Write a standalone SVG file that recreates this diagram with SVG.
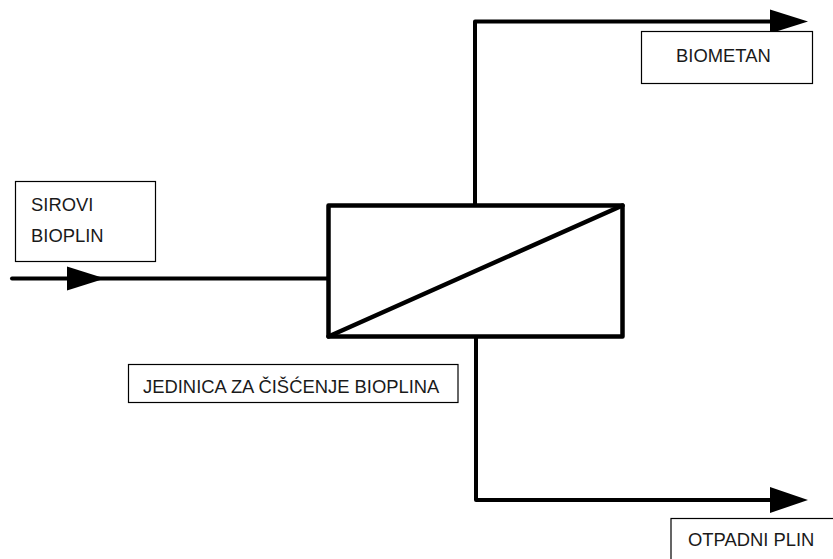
<svg xmlns="http://www.w3.org/2000/svg" width="833" height="559" viewBox="0 0 833 559">
<style>
.flow{fill:none;stroke:#000;stroke-width:4;stroke-linejoin:round;stroke-linecap:round}
.head{fill:#000;stroke:none}
.lbl{fill:#fff;stroke:#000;stroke-width:1.2}
.t{font-family:"Liberation Sans",Arial,sans-serif;font-size:18.4px;fill:#1a1a1a}
.unit{fill:#fff;stroke:#000;stroke-width:4.5;stroke-linejoin:round}
</style>
<rect width="833" height="559" fill="#fff"/>
<g id="connectors">
<path class="flow" d="M12,278.5 H328"/>
<polygon class="head" points="67,266.5 105,278.5 67,290.5"/>
<path class="flow" d="M475,205.5 V21.5 H772"/>
<polygon class="head" points="770,9.5 808,21.5 770,33.5"/>
<path class="flow" d="M476,336.5 V500 H772"/>
<polygon class="head" points="770,487 808,500 770,513"/>
</g>
<g id="unit">
<rect class="unit" x="328.5" y="205.5" width="294" height="131"/>
<line x1="328.5" y1="336.5" x2="622.5" y2="205.5" stroke="#000" stroke-width="4.5" stroke-linecap="round"/>
</g>
<g id="sirovi">
<rect class="lbl" x="15.5" y="181.5" width="140" height="80"/>
<text class="t" x="31" y="210.5">SIROVI</text>
<text class="t" x="31" y="241.5">BIOPLIN</text>
</g>
<g id="biometan">
<rect class="lbl" x="641.5" y="31.5" width="171" height="52"/>
<text class="t" x="676" y="61.5">BIOMETAN</text>
</g>
<g id="jedinica">
<rect class="lbl" x="128.5" y="364.5" width="329.5" height="38"/>
<text class="t" x="143" y="392.5">JEDINICA ZA ČIŠĆENJE BIOPLINA</text>
</g>
<g id="otpadni">
<rect class="lbl" x="671" y="518.5" width="170" height="50"/>
<text class="t" x="688" y="546">OTPADNI PLIN</text>
</g>
</svg>
